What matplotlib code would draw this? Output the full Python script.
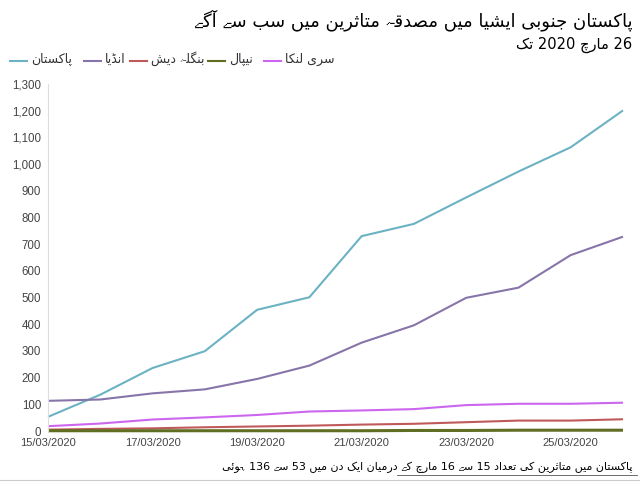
import matplotlib
matplotlib.use("Agg")
import matplotlib.pyplot as plt
from matplotlib import font_manager
from matplotlib.ft2font import FT2Font
from matplotlib.lines import Line2D

# ---------------- data ----------------
dates = ["15/03/2020", "16/03/2020", "17/03/2020", "18/03/2020", "19/03/2020", "20/03/2020",
         "21/03/2020", "22/03/2020", "23/03/2020", "24/03/2020", "25/03/2020", "26/03/2020"]
pakistan = [53, 136, 236, 299, 454, 501, 730, 776, 875, 972, 1063, 1201]
india = [113, 118, 141, 156, 195, 245, 331, 396, 499, 537, 659, 728]
bangladesh = [5, 8, 10, 14, 17, 20, 24, 27, 33, 39, 39, 44]
nepal = [1, 1, 1, 1, 1, 1, 1, 2, 2, 3, 3, 3]
srilanka = [18, 28, 43, 51, 60, 73, 77, 82, 97, 102, 102, 106]
names = ["پاکستان", "انڈیا", "بنگلہ دیش", "نیپال", "سری لنکا"]
title = "پاکستان جنوبی ایشیا میں مصدقہ متاثرین میں سب سے آگے"
subtitle = "26 مارچ 2020 تک"
footer = "پاکستان میں متاثرین کی تعداد 15 سے 16 مارچ کے درمیان ایک دن میں 53 سے 136 ہوئی"
yticks = [0, 100, 200, 300, 400, 500, 600, 700, 800, 900, 1000, 1100, 1200, 1300]

# ---------------- simple Arabic/Urdu shaping ----------------
FORMS = {
    '\u0627': (0xFE8D, 0xFE8E), '\u0622': (0xFE81, 0xFE82),
    '\u0628': (0xFE8F, 0xFE90, 0xFE91, 0xFE92), '\u062A': (0xFE95, 0xFE96, 0xFE97, 0xFE98),
    '\u062B': (0xFE99, 0xFE9A, 0xFE9B, 0xFE9C), '\u062C': (0xFE9D, 0xFE9E, 0xFE9F, 0xFEA0),
    '\u062F': (0xFEA9, 0xFEAA), '\u0631': (0xFEAD, 0xFEAE),
    '\u0633': (0xFEB1, 0xFEB2, 0xFEB3, 0xFEB4), '\u0634': (0xFEB5, 0xFEB6, 0xFEB7, 0xFEB8),
    '\u0635': (0xFEB9, 0xFEBA, 0xFEBB, 0xFEBC), '\u0639': (0xFEC9, 0xFECA, 0xFECB, 0xFECC),
    '\u0642': (0xFED5, 0xFED6, 0xFED7, 0xFED8), '\u0644': (0xFEDD, 0xFEDE, 0xFEDF, 0xFEE0),
    '\u0645': (0xFEE1, 0xFEE2, 0xFEE3, 0xFEE4), '\u0646': (0xFEE5, 0xFEE6, 0xFEE7, 0xFEE8),
    '\u0648': (0xFEED, 0xFEEE), '\u0626': (0xFE89, 0xFE8A, 0xFE8B, 0xFE8C),
    '\u06A9': (0xFB8E, 0xFB8F, 0xFB90, 0xFB91), '\u06AF': (0xFB92, 0xFB93, 0xFB94, 0xFB95),
    '\u067E': (0xFB56, 0xFB57, 0xFB58, 0xFB59), '\u0686': (0xFB7A, 0xFB7B, 0xFB7C, 0xFB7D),
    '\u0688': (0xFB88, 0xFB89), '\u06BA': (0xFB9E, 0xFB9F),
    '\u06C1': (0xFBA6, 0xFBA7, 0xFBA8, 0xFBA9), '\u06CC': (0xFBFC, 0xFBFD, 0xFBFE, 0xFBFF),
    '\u06D2': (0xFBAE, 0xFBAF),
}
FALLBACK = {'\u06C1': (0xFEE9, 0xFEEA, 0xFEEB, 0xFEEC)}


def charmap(path):
    try:
        return set(FT2Font(path).get_charmap().keys())
    except Exception:
        return set()


AR_PATH = font_manager.findfont("DejaVu Sans")
CMAP = charmap(AR_PATH)
AR_FAMILIES = ["DejaVu Sans"]
# find another installed family that has yeh barree (U+06D2)
_extra = None
for fe in font_manager.fontManager.ttflist:
    if fe.name == "DejaVu Sans":
        continue
    cm = charmap(fe.fname)
    if 0x06D2 in cm or 0xFBAF in cm:
        _extra = (fe.name, cm)
        break
ALL_CMAP = set(CMAP)
if _extra:
    AR_FAMILIES.append(_extra[0])
    ALL_CMAP |= _extra[1]


def has(cp):
    return (not ALL_CMAP) or cp in ALL_CMAP


def shape(text):
    out = []
    n = len(text)
    for i, c in enumerate(text):
        if c not in FORMS:
            out.append(c)
            continue
        f = FORMS[c]
        prev = text[i - 1] if i > 0 else ''
        nxt = text[i + 1] if i + 1 < n else ''
        pj = prev in FORMS and len(FORMS[prev]) == 4
        nj = nxt in FORMS and len(f) == 4
        idx = 3 if (pj and nj) else 1 if pj else 2 if nj else 0
        cp = f[idx]
        if not has(cp) and c in FALLBACK and has(FALLBACK[c][idx]):
            cp = FALLBACK[c][idx]
        if not has(cp):
            if has(ord(c)):
                cp = ord(c)
            elif c == '\u06D2':
                cp = 0xFEF0 if idx == 1 else 0xFEEF
        out.append(chr(cp))
    s = ''.join(out)
    # visual order: reverse, keeping digit runs LTR
    runs, cur, isd = [], '', None
    for ch in s:
        d = ch.isdigit()
        if isd is None or d == isd:
            cur += ch
        else:
            runs.append((cur, isd))
            cur = ch
        isd = d
    if cur:
        runs.append((cur, isd))
    return ''.join(r if d else r[::-1] for r, d in reversed(runs))


# ---------------- figure ----------------
fig = plt.figure(figsize=(6.4, 4.83), dpi=100)
ax = fig.add_axes([48 / 640, 1 - 431 / 483, (623 - 48) / 640, (431 - 84) / 483])

colors = ["#6bb2c3", "#8775a9", "#c05a5a", "#5f6e22", "#cc66ee"]
widths = [1.5, 1.5, 1.5, 2.2, 1.5]
series = [pakistan, india, bangladesh, nepal, srilanka]
x = list(range(len(dates)))
for vals, col, lw in zip(series, colors, widths):
    ax.plot(x, vals, color=col, lw=lw, solid_capstyle='butt', clip_on=False)

ax.set_xlim(0, len(dates) - 1)
ax.set_ylim(0, 1300)
ax.set_yticks(yticks)
ax.set_yticklabels([f"{v:,}" for v in yticks], fontsize=8.3, color="#444444",
                   family="Liberation Sans")
ax.set_xticks(x[::2])
ax.set_xticklabels(dates[::2], fontsize=8, color="#444444", family="Liberation Sans")
ax.tick_params(axis='both', length=0)
ax.tick_params(axis='y', pad=5)
ax.tick_params(axis='x', pad=5)
for s in ["top", "right", "bottom"]:
    ax.spines[s].set_visible(False)
ax.spines["left"].set_color("#dddddd")
ax.spines["left"].set_linewidth(0.8)

# titles
fig.text(632 / 640, 1 - 20 / 483, shape(title), ha='right', va='center',
         fontsize=13, family=AR_FAMILIES, color="black")
fig.text(632 / 640, 1 - 45 / 483, shape(subtitle), ha='right', va='center',
         fontsize=10.5, family=AR_FAMILIES, color="black")

# legend (manual, RTL labels)
leg_line_x = [10, 84, 130, 208, 264]
leg_y = 1 - 59 / 483
for lx, name, col in zip(leg_line_x, names, colors):
    fig.add_artist(Line2D([lx / 640, (lx + 17) / 640], [leg_y - 2 / 483, leg_y - 2 / 483],
                          color=col, lw=1.5, transform=fig.transFigure))
    fig.text((lx + 21) / 640, leg_y, shape(name), ha='left', va='center',
             fontsize=9, family=AR_FAMILIES, color="#333333")

# footer
fig.text(632 / 640, 1 - 467 / 483, shape(footer), ha='right', va='center',
         fontsize=8, family=AR_FAMILIES, color="black")
fig.add_artist(Line2D([397 / 640, 637 / 640], [1 - 475 / 483] * 2, color="#555555", lw=0.6,
                      transform=fig.transFigure))
fig.add_artist(Line2D([0, 1], [1 - 480 / 483] * 2, color="#cccccc", lw=0.8,
                      transform=fig.transFigure))

fig.savefig("out.png", dpi=100)
